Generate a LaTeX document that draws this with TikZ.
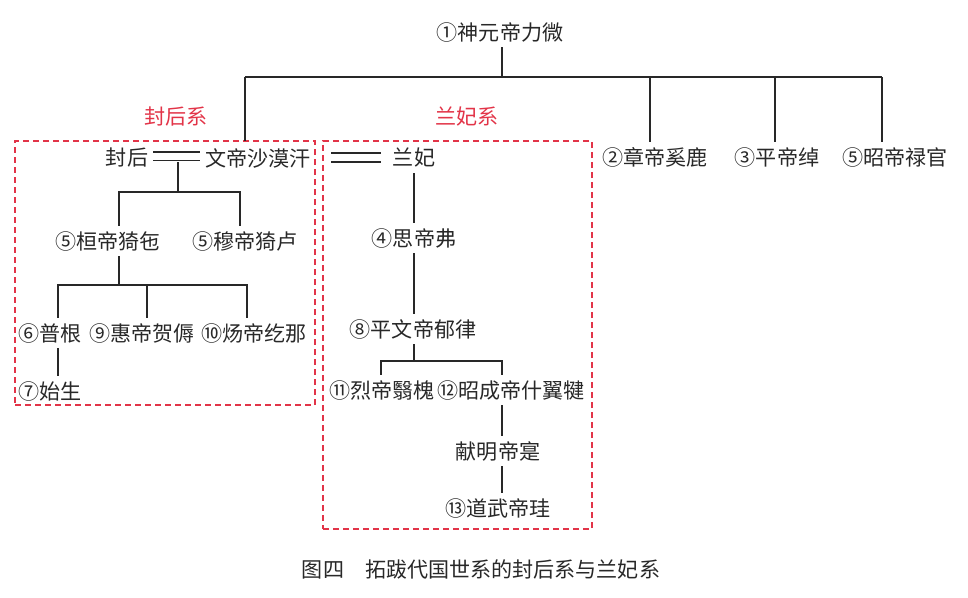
\documentclass[tikz,border=0pt]{standalone}
\usepackage{fontspec}
\setmainfont{Noto Sans CJK SC}
\usetikzlibrary{calc}
\definecolor{redlbl}{RGB}{226,52,72}
\definecolor{inkc}{RGB}{40,40,40}
\begin{document}
\begin{tikzpicture}[x=0.75pt,y=-0.75pt,
  person/.style={font=\fontsize{15.8}{16}\selectfont, text=inkc, inner sep=0pt, outer sep=4pt},
  grp/.style={font=\fontsize{15.8}{16}\selectfont, text=redlbl, inner sep=0pt},
  captionstyle/.style={font=\fontsize{15.8}{16}\selectfont, text=inkc, inner sep=0pt},
  link/.style={draw=inkc, line width=0.95pt},
  famblock/.style={draw=redlbl, line width=1.4pt, dash pattern=on 4.5pt off 3pt, inner sep=0pt, outer sep=0pt}]
\useasboundingbox (0,0) rectangle (968,597);

% dashed family blocks
\node[famblock, minimum width=225pt, minimum height=198pt] (fbox) at (165,273) {};
\node[famblock, minimum width=201.75pt, minimum height=291pt] (lbox) at (457.5,335) {};

% group labels
\node[grp] (fhx) at (176,117) {封后系};
\node[grp] (lfx) at (467,117) {兰妃系};

% persons
\node[person] (shenyuan) at (500,32) {①神元帝力微};
\node[person] (zhang) at (655,157) {②章帝奚鹿};
\node[person] (ping) at (777,157) {③平帝绰};
\node[person] (zhao) at (895,157) {⑤昭帝禄官};
\node[person] (fenghou) at (127,158) {封后};
\node[person] (wendi) at (258,158) {文帝沙漠汗};
\node[person] (lanfei) at (414,158) {兰妃};
\node[person] (huan) at (108,241) {⑤桓帝猗㐌};
\node[person] (mu) at (245,241) {⑤穆帝猗卢};
\node[person] (pugen) at (50,333) {⑥普根};
\node[person] (hui) at (142,333) {⑨惠帝贺傉};
\node[person] (yang) at (254,333) {⑩炀帝纥那};
\node[person] (shisheng) at (50,391) {⑦始生};
\node[person] (si) at (414,238) {④思帝弗};
\node[person] (pingwen) at (413,329) {⑧平文帝郁律};
\node[person] (lie) at (382,390) {⑪烈帝翳槐};
\node[person] (zhaocheng) at (511,390) {⑫昭成帝什翼犍};
\node[person] (xianming) at (498,451) {献明帝寔};
\node[person] (daowu) at (498,508) {⑬道武帝珪};

% caption
\node[captionstyle] (cap) at (481,569) {图四　拓跋代国世系的封后系与兰妃系};

% junction coordinates
\coordinate (j0) at (502,77);
\coordinate (jL) at (245,77);
\coordinate (j2) at (650,77);
\coordinate (j3) at (775,77);
\coordinate (j5) at (882,77);
\coordinate (fw) at (178,162);
\coordinate (fj) at (178,192);
\coordinate (fjL) at (119,192);
\coordinate (fjR) at (240,192);
\coordinate (hj) at (119,285);
\coordinate (hjL) at (58,285);
\coordinate (hjM) at (147,285);
\coordinate (hjR) at (247,285);
\coordinate (pj) at (414,361);
\coordinate (pjL) at (381,361);
\coordinate (pjR) at (502,361);
\coordinate (ls1) at (331,153);
\coordinate (ls2) at (381,153);
\coordinate (ls3) at (331,162);
\coordinate (ls4) at (381,162);

% top generation
\draw[link] (shenyuan.south -| j0) -- (j0);
\draw[link] (jL) -- (j5);
\draw[link] (jL) -- (jL |- fbox.north);
\draw[link] (j2) -- (j2 |- zhang.north);
\draw[link] (j3) -- (j3 |- ping.north);
\draw[link] (j5) -- (j5 |- zhao.north);

% 封后系
\draw[link] ([yshift=4.5pt]fenghou.east) -- ([yshift=4.5pt]wendi.west);
\draw[link] ([yshift=-2pt]fenghou.east) -- ([yshift=-2pt]wendi.west);
\draw[link] (fw) -- (fj);
\draw[link] (huan.north -| fjL) -- (fjL) -- (fjR) -- (mu.north -| fjR);
\draw[link] (huan.south -| hj) -- (hj);
\draw[link] (pugen.north -| hjL) -- (hjL) -- (hjR) -- (yang.north -| hjR);
\draw[link] (hjM) -- (hui.north -| hjM);
\draw[link] (pugen.south -| hjL) -- (shisheng.north -| hjL);

% 兰妃系
\draw[link] (ls1) -- (ls2);
\draw[link] (ls3) -- (ls4);
\draw[link] (lanfei.south) -- (lanfei.south |- si.north);
\draw[link] (si.south) -- (si.south |- pingwen.north);
\draw[link] (pingwen.south -| pj) -- (pj);
\draw[link] (lie.north -| pjL) -- (pjL) -- (pjR) -- (zhaocheng.north -| pjR);
\draw[link] (zhaocheng.south -| pjR) -- (xianming.north -| pjR);
\draw[link] (xianming.south -| pjR) -- (daowu.north -| pjR);
\end{tikzpicture}
\end{document}
